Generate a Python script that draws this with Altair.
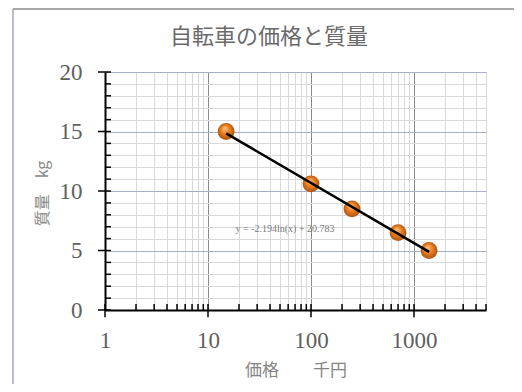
import altair as alt
import pandas as pd

# ---- data ----
price = [15, 100, 250, 700, 1400]
mass = [15, 10.6, 8.5, 6.5, 5]
chart_title = "自転車の価格と質量"
x_title = "価格　　千円"
y_title = "質量　kg"
trend_label = "y = -2.194ln(x) + 20.783"
trend_a = -2.194
trend_b = 20.783
x_major = [1, 10, 100, 1000]
x_minor = [2, 3, 4, 5, 6, 7, 8, 9, 20, 30, 40, 50, 60, 70, 80, 90,
           200, 300, 400, 500, 600, 700, 800, 900, 2000, 3000, 4000, 5000]
y_major = [0, 5, 10, 15, 20]
y_minor = [1, 2, 3, 4, 6, 7, 8, 9, 11, 12, 13, 14, 16, 17, 18, 19]

NUM = "Liberation Serif"
JP = "Noto Sans CJK JP"

W, H = 381, 238
xscale = alt.Scale(type="log", domain=[1, 5000], nice=False)
yscale = alt.Scale(domain=[0, 20], nice=False, zero=False)

major_test = f"indexof({x_major}, datum.value) >= 0"

x_axis = alt.Axis(
    values=x_major + x_minor, format="d",
    labelExpr=f"{major_test} ? datum.label : ''",
    labelOverlap=False, labelFlush=False, labelFont=NUM, labelFontSize=23,
    labelColor="#606060", labelPadding=19, labelBaseline="top",
    ticks=False, tickSize=0,
    domainColor="black", domainWidth=2,
    grid=True,
    gridColor={"condition": {"test": major_test, "value": "#8c8c8c"}, "value": "#d9d9d9"},
    gridWidth=1,
    title=x_title, titleFont=JP, titleFontSize=17, titleFontWeight="normal",
    titleColor="#858585", titleY=60, titleBaseline="middle",
)
y_axis = alt.Axis(
    values=y_major + y_minor,
    labelExpr="datum.value % 5 === 0 ? datum.label : ''",
    labelOverlap=False, labelFlush=False, labelFont=NUM, labelFontSize=23,
    labelColor="#606060", labelPadding=23, labelAlign="right", labelBaseline="middle",
    ticks=False, tickSize=0,
    domainColor="black", domainWidth=2,
    grid=True,
    gridColor={"condition": {"test": "datum.value % 5 === 0", "value": "#a7b1c6"}, "value": "#d9d9d9"},
    gridWidth=1,
    title=y_title, titleFont=JP, titleFontSize=16, titleFontWeight="normal",
    titleColor="#8a8a8a", titleX=-63, titleY=H / 2 + 2, titleBaseline="middle", titleAngle=270,
)

sphere = {
    "gradient": "radial",
    "x1": 0.42, "y1": 0.3, "r1": 0.0,
    "x2": 0.5, "y2": 0.5, "r2": 0.55,
    "stops": [
        {"offset": 0.0, "color": "#ffc48a"},
        {"offset": 0.45, "color": "#ec8224"},
        {"offset": 1.0, "color": "#a24e0b"},
    ],
}

pts_df = pd.DataFrame({"price": price, "mass": mass})
points = alt.Chart(pts_df).mark_point(
    shape="circle", size=285, filled=True, fill=sphere, opacity=1, strokeWidth=0
).encode(
    x=alt.X("price:Q", scale=xscale, axis=x_axis),
    y=alt.Y("mass:Q", scale=yscale, axis=y_axis),
)

trend_df = pd.DataFrame({"price": [min(price), max(price)]})
trend = alt.Chart(trend_df).transform_calculate(
    fit=f"{trend_a} * log(datum.price) + {trend_b}"
).mark_line(color="black", strokeWidth=2.5).encode(
    x=alt.X("price:Q", scale=xscale, axis=x_axis),
    y=alt.Y("fit:Q", scale=yscale, axis=y_axis),
)

# axis tick marks (major ticks cross the axis, minor ticks point inside)
IN_X, OUT_X = 10 ** (6 / 103), 10 ** (-7 / 103)
IN_Y, OUT_Y = 0.5, -0.6
ytk = pd.DataFrame({"v": y_major + y_minor})
yticks = alt.Chart(ytk).transform_calculate(
    a=f"datum.v % 5 === 0 ? {OUT_X} : 1", b=f"{IN_X}"
).mark_rule(color="black", strokeWidth=1.5).encode(
    y=alt.Y("v:Q", scale=yscale, axis=y_axis),
    x=alt.X("a:Q", scale=xscale, axis=x_axis),
    x2="b:Q",
)
xtk = pd.DataFrame({"v": x_major + x_minor})
xticks = alt.Chart(xtk).transform_calculate(
    a=f"indexof({x_major}, datum.v) >= 0 ? {OUT_Y} : 0", b=f"{IN_Y}"
).mark_rule(color="black", strokeWidth=1.5).encode(
    x=alt.X("v:Q", scale=xscale, axis=x_axis),
    y=alt.Y("a:Q", scale=yscale, axis=y_axis),
    y2="b:Q",
)

label_df = pd.DataFrame({"t": [trend_label]})
eq = alt.Chart(label_df).mark_text(
    font=NUM, fontSize=10, color="#7a7a7a", align="center", baseline="middle"
).encode(text="t:N", x=alt.value(180), y=alt.value(157))

title_df = pd.DataFrame({"t": [chart_title]})
title = alt.Chart(title_df).mark_text(
    font=JP, fontSize=22, color="#6a6a6a", align="center", baseline="middle"
).encode(text="t:N", x=alt.value(164), y=alt.value(-35))

one = pd.DataFrame({"k": [0]})
frame_left = alt.Chart(one).mark_rule(color="#b9bcc6", strokeWidth=2).encode(
    x=alt.value(-92), y=alt.value(-63), y2=alt.value(330))
frame_top = alt.Chart(one).mark_rule(color="#a6a6a6", strokeWidth=2).encode(
    x=alt.value(-92), x2=alt.value(420), y=alt.value(-63))

chart = alt.layer(
    points, xticks, yticks, trend, eq, title, frame_left, frame_top
).properties(
    width=W, height=H,
    autosize=alt.AutoSizeParams(type="none"),
    padding={"left": 97, "top": 64, "right": 28, "bottom": 74},
).configure_view(stroke="#a6a6a6", strokeWidth=1).configure(background="white")

chart.save("out.html", embed_options={"renderer": "svg", "actions": False})
